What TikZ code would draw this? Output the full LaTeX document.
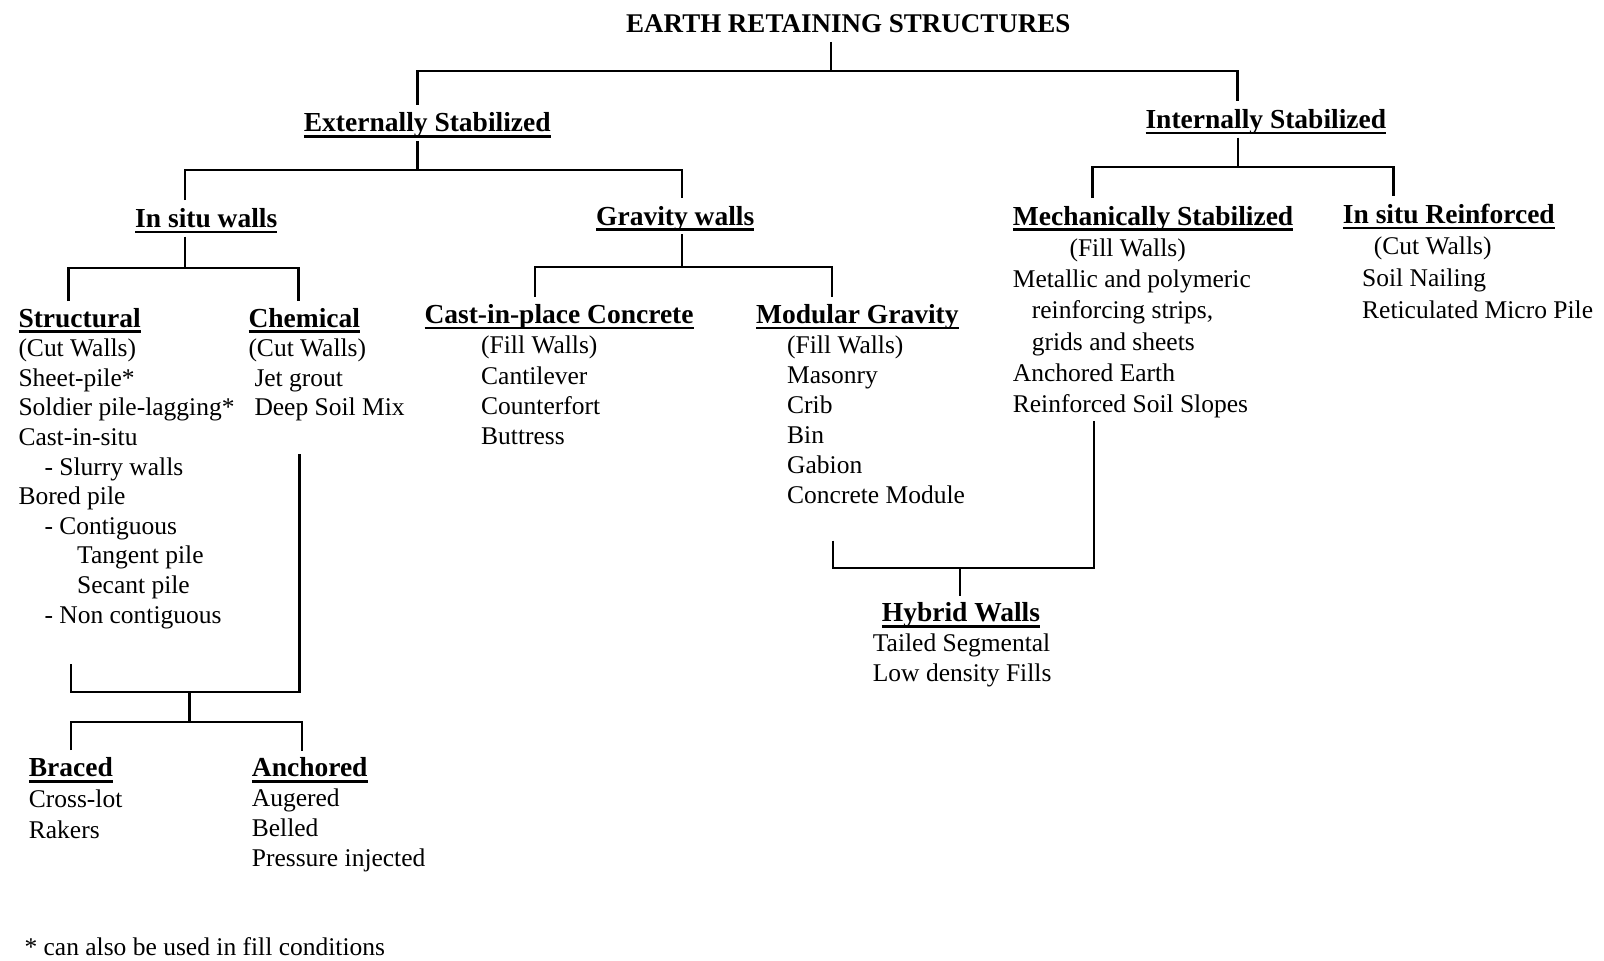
\documentclass[tikz,border=0pt]{standalone}
\usepackage{fontspec}
\setmainfont{Liberation Serif}
\newcommand\hd[1]{{\fontsize{27.5}{30}\selectfont\bfseries\setbox0\hbox{#1}\rlap{\rule[-5.8pt]{\wd0}{2.6pt}}\box0}}
\newcommand\colblk[2][1]{{\renewcommand\arraystretch{#1}\begin{tabular}[t]{@{}l@{}}#2\end{tabular}}}
\begin{document}
\begin{tikzpicture}[x=1pt,y=-1pt,line width=2.4pt,
  every node/.style={font=\fontsize{25.5}{30}\selectfont,inner xsep=0pt},
  head/.style={anchor=base west,inner ysep=0pt,text height=26pt,text depth=8pt},
  blk/.style={anchor=base west,inner ysep=4pt}]
\useasboundingbox (0,0) rectangle (1604,961);
\node[head](ERS) at (625,32.7) {\fontsize{27}{30}\selectfont\bfseries EARTH RETAINING STRUCTURES};
\node[head](ext) at (302.7,131.7) {\hd{Externally Stabilized}};
\node[head](int) at (1144.3,128.3) {\hd{Internally Stabilized}};
\node[head](isw) at (134,227.3) {\hd{In situ walls}};
\node[head](gw) at (595,225) {\hd{Gravity walls}};
\node[blk](str) at (17.3,327) {\colblk[0.987]{\hd{Structural}\\
  (Cut Walls)\\
  Sheet-pile*\\
  Soldier pile-lagging*\\
  Cast-in-situ\\
  \hspace*{26pt}- Slurry walls\\
  Bored pile\\
  \hspace*{26pt}- Contiguous\\
  \hspace*{58.7pt}Tangent pile\\
  \hspace*{58.7pt}Secant pile\\
  \hspace*{26pt}- Non contiguous}};
\node[blk](chem) at (247.3,327) {\colblk[0.987]{\hd{Chemical}\\
  (Cut Walls)\\
  \hspace*{6pt}Jet grout\\
  \hspace*{6pt}Deep Soil Mix}};
\node[blk](cip) at (423.3,323.3) {\colblk[1.013]{\hd{Cast-in-place Concrete}\\
  \hspace*{56.7pt}(Fill Walls)\\
  \hspace*{56.7pt}Cantilever\\
  \hspace*{56.7pt}Counterfort\\
  \hspace*{56.7pt}Buttress}};
\node[blk](mod) at (755,323.3) {\colblk{\hd{Modular Gravity}\\
  \hspace*{31pt}(Fill Walls)\\
  \hspace*{31pt}Masonry\\
  \hspace*{31pt}Crib\\
  \hspace*{31pt}Bin\\
  \hspace*{31pt}Gabion\\
  \hspace*{31pt}Concrete Module}};
\node[blk](mse) at (1011.7,225) {\colblk[1.043]{\hd{Mechanically Stabilized}\\
  \hspace*{56.6pt}(Fill Walls)\\
  Metallic and polymeric\\
  \hspace*{19pt}reinforcing strips,\\
  \hspace*{19pt}grids and sheets\\
  Anchored Earth\\
  Reinforced Soil Slopes}};
\node[blk](isr) at (1341.7,223.3) {\colblk[1.056]{\hd{In situ Reinforced}\\
  \hspace*{31pt}(Cut Walls)\\
  \hspace*{19.3pt}Soil Nailing\\
  \hspace*{19.3pt}Reticulated Micro Pile}};
\node[blk](hyb) at (871.7,621.7) {\colblk{\hspace*{9pt}\hd{Hybrid Walls}\\
  Tailed Segmental\\
  Low density Fills}};
\node[blk](brc) at (27.7,776.7) {\colblk[1.023]{\hd{Braced}\\
  Cross-lot\\
  Rakers}};
\node[blk](anc) at (250.7,776.7) {\colblk{\hd{Anchored}\\
  Augered\\
  Belled\\
  Pressure injected}};
\node[anchor=base west,inner ysep=0pt](note) at (23.3,955) {* can also be used in fill conditions};
\coordinate (j1) at (830.7,70.7);
\coordinate (j2) at (417.3,170);
\coordinate (j3) at (1237.8,166.7);
\coordinate (j4) at (185,268);
\coordinate (j5) at (681.7,266.7);
\coordinate (j6) at (189.3,691.7);
\coordinate (j7) at (189.3,721.7);
\coordinate (j8) at (960,568);
\draw (ERS.south -| j1) -- (j1);
\draw ([xshift=114.6pt]ext.north west) |- (j1) -| ([xshift=93.2pt]int.north west);
\draw (ext.south -| j2) -- (j2);
\draw ([xshift=51pt]isw.north west) |- (j2) -| ([xshift=86.7pt]gw.north west);
\draw (int.south -| j3) -- (j3);
\draw ([xshift=80.6pt]mse.north west) |- (j3) -| ([xshift=51.6pt]isr.north west);
\draw (isw.south -| j4) -- (j4);
\draw ([xshift=51pt]str.north west) |- (j4) -| ([xshift=51pt]chem.north west);
\draw (gw.south -| j5) -- (j5);
\draw ([xshift=111.7pt]cip.north west) |- (j5) -| ([xshift=76.7pt]mod.north west);
\draw ([xshift=53.4pt,yshift=-27pt]str.south west) |- (j6) -| ([xshift=52pt,yshift=-24pt]chem.south west);
\draw (j6) -- (j7);
\draw ([xshift=43pt]brc.north west) |- (j7) -| ([xshift=51pt]anc.north west);
\draw ([xshift=78pt,yshift=-23pt]mod.south west) |- (j8) -| ([xshift=82.3pt,yshift=6pt]mse.south west);
\draw (j8) -- (hyb.north -| j8);
\end{tikzpicture}
\end{document}
